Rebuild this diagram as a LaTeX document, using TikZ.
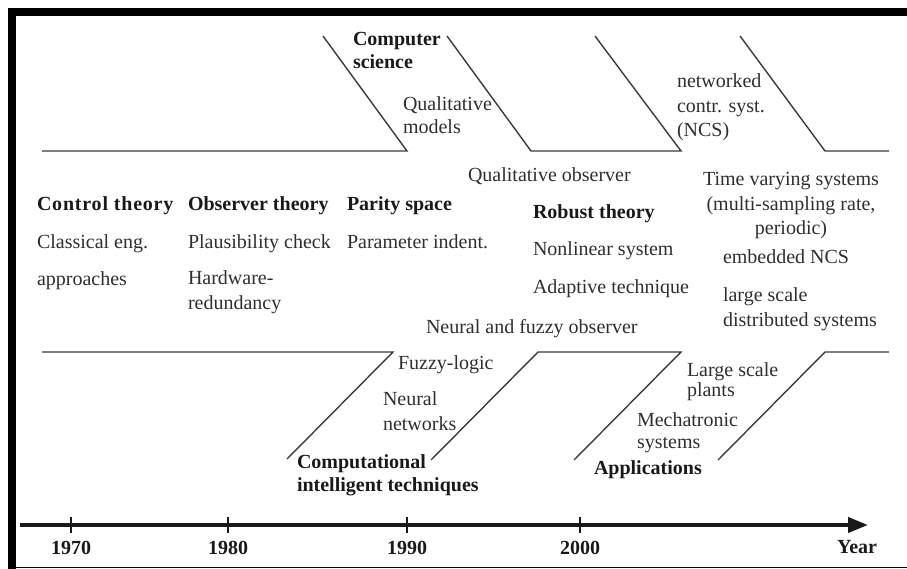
\documentclass[tikz,border=0pt]{standalone}
\usepackage{fontspec}
\setmainfont{Liberation Serif}
\usetikzlibrary{arrows.meta}
\definecolor{ink}{HTML}{2E2E2E}
\definecolor{linec}{HTML}{3A3A3A}
\tikzset{
  txt/.style={inner sep=0pt, outer sep=0pt, text=ink, font=\fontsize{20}{23}\selectfont, anchor=base west, align=left},
  btxt/.style={txt, font=\fontsize{20}{23}\selectfont\bfseries, text=black!90},
  ctxt/.style={txt, anchor=base, align=center},
  fish/.style={draw=linec, line width=1.4pt, line join=miter},
  axisline/.style={draw=black!90, line width=4pt},
  tick/.style={draw=black!90, line width=1.6pt},
  yr/.style={btxt, anchor=base}
}
\begin{document}
\begin{tikzpicture}[x=1pt,y=-1pt]
\useasboundingbox (0,0) rectangle (907,569);
% frame
\fill[black] (8,8) rectangle (907,16);
\fill[black] (8,8) rectangle (16,569);
\draw[black, line width=1pt] (16,567.5) -- (907,567.5);

% top fishbone coordinates
\coordinate (t0) at (42,151);
\coordinate (t1) at (407,151);
\coordinate (t2) at (323,36);
\coordinate (t3) at (447,36);
\coordinate (t4) at (531,151);
\coordinate (t5) at (681,151);
\coordinate (t6) at (595,36);
\coordinate (t7) at (740,36);
\coordinate (t8) at (825,151);
\coordinate (t9) at (889,151);
\draw[fish] (t0) -- (t1) -- (t2);
\draw[fish] (t3) -- (t4) -- (t5) -- (t6);
\draw[fish] (t7) -- (t8) -- (t9);

% bottom fishbone coordinates
\coordinate (b0) at (42,352);
\coordinate (b1) at (393,352);
\coordinate (b2) at (287,459);
\coordinate (b3) at (431,460);
\coordinate (b4) at (538,352);
\coordinate (b5) at (681,352);
\coordinate (b6) at (574,460);
\coordinate (b7) at (718,460);
\coordinate (b8) at (825,352);
\coordinate (b9) at (889,352);
\draw[fish] (b0) -- (b1) -- (b2);
\draw[fish] (b3) -- (b4) -- (b5) -- (b6);
\draw[fish] (b7) -- (b8) -- (b9);

% axis
\coordinate (a0) at (20,525);
\coordinate (a1) at (868,525);
\draw[axisline, -{Triangle[length=20pt,width=15pt]}] (a0) -- (a1);
\foreach \nm/\xx in {y70/71, y80/228, y90/407, y00/580}{
  \coordinate (\nm t) at (\xx,517);
  \coordinate (\nm b) at (\xx,533);
  \draw[tick] (\nm t) -- (\nm b);
}
\node[yr] (l70) at (71,554) {1970};
\node[yr] (l80) at (228,554) {1980};
\node[yr] (l90) at (407,554) {1990};
\node[yr] (l00) at (580,554) {2000};
\node[yr] (lyear) at (857,553) {Year};

% top texts (multi-line nodes: coordinate = baseline of last line)
\node[btxt] (cs) at (353,69) {Computer\\science};
\node[txt] (qm) at (403,134) {Qualitative\\models};
\node[txt, font=\fontsize{20}{24.5}\selectfont] (ncs) at (677,137) {networked\\contr. syst.\\(NCS)};
\node[txt] (qo) at (468,182) {Qualitative observer};

\node[btxt, font=\fontsize{20}{23}\selectfont\bfseries\addfontfeatures{LetterSpace=4}] (ct) at (37,211) {Control theory};
\node[btxt] (ot) at (188,211) {Observer theory};
\node[btxt] (ps) at (347,211) {Parity space};
\node[txt] (ce) at (37,249) {Classical eng.};
\node[txt] (pc) at (188,249) {Plausibility check};
\node[txt] (pi) at (347,249) {Parameter indent.};
\node[txt] (ap) at (37,285) {approaches};
\node[txt, font=\fontsize{20}{25}\selectfont] (hw) at (188,309) {Hardware-\\redundancy};

\node[btxt] (rt) at (533,219) {Robust theory};
\node[txt] (ns) at (533,256) {Nonlinear system};
\node[txt] (at) at (533,293) {Adaptive technique};

\node[ctxt, font=\fontsize{20}{24.5}\selectfont] (tv) at (791,235) {Time varying systems\\(multi-sampling rate,\\periodic)};
\node[txt] (en) at (723,264) {embedded NCS};
\node[txt, font=\fontsize{20}{25}\selectfont] (ls) at (723,326) {large scale\\distributed systems};

% bottom texts
\node[txt] (nf) at (426,333) {Neural and fuzzy observer};
\node[txt] (fl) at (398,369) {Fuzzy-logic};
\node[txt, font=\fontsize{20}{24.5}\selectfont] (nn) at (383,430) {Neural\\networks};
\node[btxt, font=\fontsize{20}{23}\selectfont\bfseries] (ci) at (297,491) {Computational\\intelligent techniques};
\node[txt, font=\fontsize{20}{19.5}\selectfont] (lp) at (687,396) {Large scale\\plants};
\node[txt, font=\fontsize{20}{22}\selectfont] (ms) at (637,448) {Mechatronic\\systems};
\node[btxt] (apl) at (594,474) {Applications};
\end{tikzpicture}
\end{document}
